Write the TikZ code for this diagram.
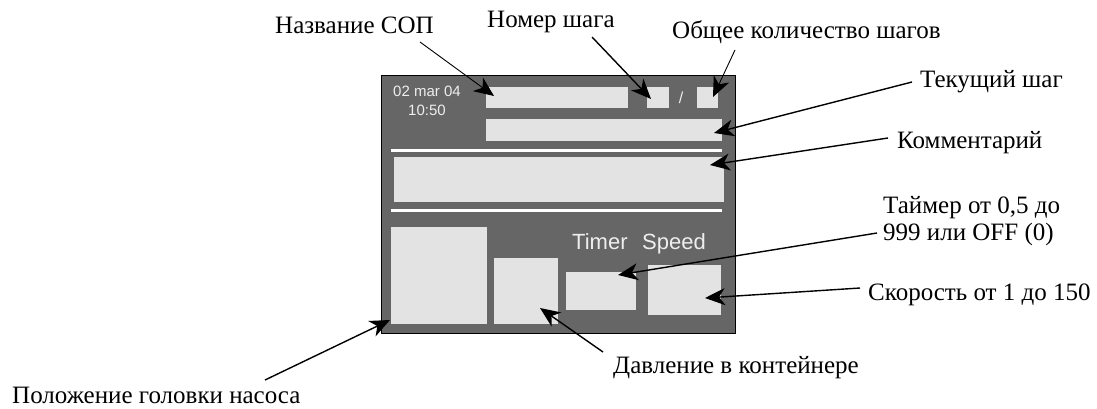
\documentclass[tikz,border=0pt]{standalone}
\usepackage{fontspec}
\setmainfont{Liberation Serif}
\newfontfamily\arialf{Liberation Sans}
\usetikzlibrary{arrows.meta}
\definecolor{panelgray}{HTML}{666666}
\definecolor{boxgray}{HTML}{E3E3E3}
\definecolor{txtgray}{HTML}{EEEEEE}
\begin{document}
\begin{tikzpicture}[x=1pt,y=-1pt,
  lbl/.style={inner sep=0pt, anchor=base west, font=\fontsize{25}{27}\selectfont},
  box/.style={fill=boxgray, draw=none, inner sep=0pt, anchor=north west},
  scrtxt/.style={inner sep=0pt, text=txtgray, font=\arialf\fontsize{22}{24}\selectfont},
  ptr/.style={draw=black, line width=1.4pt, -{Stealth[length=20pt,width=17pt,inset=6pt]}},
  sep/.style={draw=white, line width=3pt}]
\useasboundingbox (0,0) rectangle (1097,408);
% panel
\node[draw=black, line width=1.2pt, fill=panelgray, minimum width=354pt, minimum height=258pt, anchor=north west, inner sep=0pt] (panel) at (381,75) {};
\node[box, minimum width=142pt, minimum height=21pt] (namebox) at (486,87) {};
\node[box, minimum width=22pt, minimum height=21pt] (stepno) at (647,87) {};
\node[box, minimum width=21pt, minimum height=21pt] (totalbox) at (697,87) {};
\node[box, minimum width=236pt, minimum height=22pt] (curbox) at (486,119) {};
\draw[sep] (391,150) -- (722,150);
\node[box, minimum width=330pt, minimum height=45pt] (combox) at (394,157) {};
\draw[sep] (391,210) -- (722,210);
\node[box, minimum width=96pt, minimum height=97pt] (posbox) at (391,227) {};
\node[box, minimum width=64pt, minimum height=66pt] (presbox) at (494,258) {};
\node[box, minimum width=70pt, minimum height=38pt] (timerbox) at (566,272) {};
\node[box, minimum width=73pt, minimum height=50pt] (speedbox) at (648,265) {};
% screen texts
\node[inner sep=0pt, text=txtgray, align=center, font=\arialf\fontsize{15}{19}\selectfont, anchor=north] (date) at (427,86) {02 mar 04\\10:50};
\node[inner sep=0pt, text=txtgray, font=\arialf\fontsize{16}{17}\selectfont] (slash) at (681,98) {/};
\node[scrtxt, anchor=base west] (timertxt) at (572,249) {Timer};
\node[scrtxt, anchor=base west] (speedtxt) at (642,249) {Speed};
% labels
\node[lbl] (l1) at (275,33) {Название СОП};
\node[lbl] (l2) at (487,27) {Номер шага};
\node[lbl] (l3) at (672,38) {Общее количество шагов};
\node[lbl] (l4) at (920,87) {Текущий шаг};
\node[lbl] (l5) at (897,148) {Комментарий};
\node[lbl, align=left] (l6) at (883,240) {Таймер от 0,5 до\\999 или OFF (0)};
\node[lbl] (l7) at (868,300) {Скорость от 1 до 150};
\node[lbl] (l8) at (613,373) {Давление в контейнере};
\node[lbl] (l9) at (12,403) {Положение головки насоса};
% connector ends
\coordinate (a1s) at (420,42);  \coordinate (a1e) at (494,96);
\coordinate (a2s) at (592,37);  \coordinate (a2e) at (651,99);
\coordinate (a3s) at (735,50);  \coordinate (a3e) at (713,97);
\coordinate (a4s) at (912,82);  \coordinate (a4e) at (714,133);
\coordinate (a5s) at (888,138); \coordinate (a5e) at (710,165);
\coordinate (a6s) at (877,233); \coordinate (a6e) at (618,275);
\coordinate (a7s) at (860,288); \coordinate (a7e) at (705,298);
\coordinate (a8s) at (603,352); \coordinate (a8e) at (540,308);
\coordinate (a9s) at (265,380); \coordinate (a9e) at (390,320);
\draw[ptr, line width=0.9pt] (a1s) -- (a1e);
\draw[ptr] (a2s) -- (a2e);
\draw[ptr, line width=0.9pt] (a3s) -- (a3e);
\draw[ptr] (a4s) -- (a4e);
\draw[ptr] (a5s) -- (a5e);
\draw[ptr] (a6s) -- (a6e);
\draw[ptr] (a7s) -- (a7e);
\draw[ptr] (a8s) -- (a8e);
\draw[ptr] (a9s) -- (a9e);
\end{tikzpicture}
\end{document}
